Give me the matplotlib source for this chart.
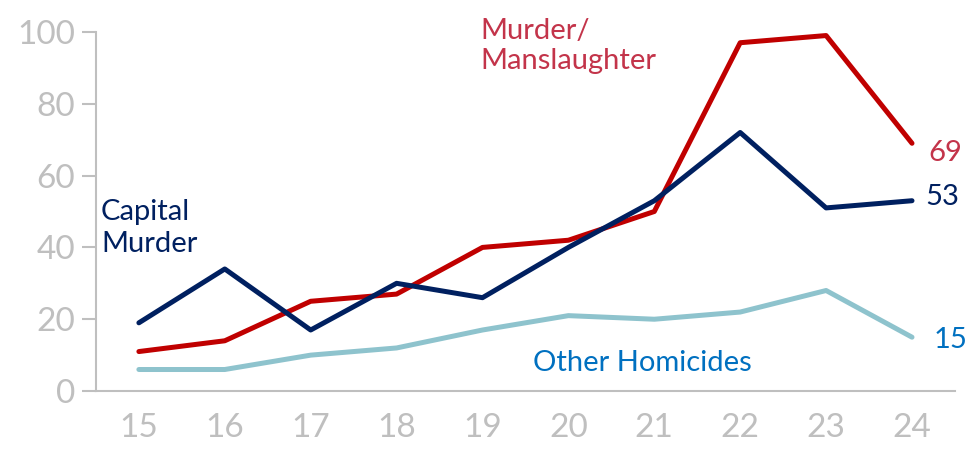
import matplotlib
matplotlib.use("Agg")
import matplotlib.pyplot as plt

years = [15, 16, 17, 18, 19, 20, 21, 22, 23, 24]
murder_manslaughter = [11, 14, 25, 27, 40, 42, 50, 97, 99, 69]
capital_murder = [19, 34, 17, 30, 26, 40, 53, 72, 51, 53]
other_homicides = [6, 6, 10, 12, 17, 21, 20, 22, 28, 15]

plt.rcParams['font.family'] = ['Lato', 'DejaVu Sans']

fig = plt.figure(figsize=(9.69, 4.5), dpi=100)
ax = fig.add_axes([0.099, 0.131, 0.8865, 0.798])

ax.plot(years, murder_manslaughter, color='#C00000', lw=3.6, solid_capstyle='round', zorder=3)
ax.plot(years, capital_murder, color='#002060', lw=3.6, solid_capstyle='round', zorder=4)
ax.plot(years, other_homicides, color='#8EC3CD', lw=3.6, solid_capstyle='round', zorder=2)

ax.set_xlim(14.5, 24.5)
ax.set_ylim(0, 100)
ax.set_xticks(years)
ax.set_xticklabels([str(y) for y in years])
ax.set_yticks([0, 20, 40, 60, 80, 100])

for s in ['top', 'right']:
    ax.spines[s].set_visible(False)
for s in ['left', 'bottom']:
    ax.spines[s].set_color('#BFBFBF')
    ax.spines[s].set_linewidth(1.5)
ax.tick_params(axis='y', colors='#BFBFBF', labelsize=24, length=10, width=1.5, pad=5)
ax.tick_params(axis='x', colors='#BFBFBF', labelsize=24, length=0, pad=16)

ax.text(18.97, 96, 'Murder/\nManslaughter', color='#C3344A', fontsize=21,
        ha='left', va='center', linespacing=1.2)
ax.text(14.56, 45.5, 'Capital\nMurder', color='#002060', fontsize=21,
        ha='left', va='center', linespacing=1.3)
ax.text(19.59, 7.8, 'Other Homicides', color='#0070C0', fontsize=21,
        ha='left', va='center')

ax.text(24.19, murder_manslaughter[-1] - 2.7, str(murder_manslaughter[-1]), color='#C3344A',
        fontsize=21, ha='left', va='center')
ax.text(24.15, capital_murder[-1] + 1, str(capital_murder[-1]), color='#002060',
        fontsize=21, ha='left', va='center')
ax.text(24.25, other_homicides[-1] - 0.8, str(other_homicides[-1]), color='#0070C0',
        fontsize=21, ha='left', va='center')

fig.savefig('out.png', dpi=100)
